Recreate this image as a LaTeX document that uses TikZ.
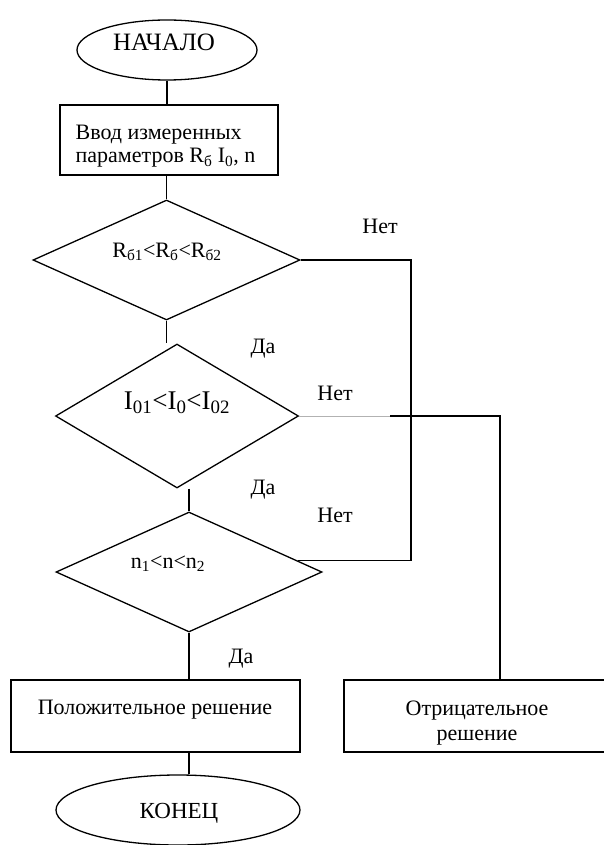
\documentclass[tikz,border=0pt]{standalone}
\usepackage{fontspec}
\setmainfont{Liberation Serif}
\usetikzlibrary{shapes.geometric}
\begin{document}
\begin{tikzpicture}[x=1pt,y=-1pt,line width=1.3pt,
  every node/.style={font=\fontsize{22}{25}\selectfont},
  term/.style={ellipse,draw,inner sep=0pt},
  proc/.style={rectangle,draw,inner sep=0pt},
  dec/.style={diamond,draw,inner sep=0pt},
  txt/.style={anchor=base,inner sep=0pt},
  lbl/.style={anchor=base,inner sep=0pt}]
\useasboundingbox (0,0) rectangle (603,845);
% shapes
\node[term,minimum width=180pt,minimum height=60pt] (start) at (167,50) {};
\node[proc,minimum width=218pt,minimum height=70pt] (input) at (169,140) {};
\node[dec,minimum width=267pt,minimum height=120pt] (d1) at (166.5,260) {};
\node[dec,minimum width=243pt,minimum height=144pt] (d2) at (177,416) {};
\node[dec,minimum width=266pt,minimum height=120pt] (d3) at (189,572) {};
\node[proc,minimum width=289pt,minimum height=72pt] (pos) at (155.5,716) {};
\node[proc,minimum width=262pt,minimum height=72pt] (neg) at (475,716) {};
\node[term,minimum width=244pt,minimum height=70pt] (end) at (178,810) {};
% texts
\node[txt,font=\fontsize{25}{28}\selectfont] (tstart) at (164,51) {НАЧАЛО};
\node[txt,anchor=base west] (tin1) at (75,140) {Ввод измеренных};
\node[txt,anchor=base west] (tin2) at (75,163) {параметров R\textsubscript{б} I\textsubscript{0}, n};
\node[txt] (td1) at (167,257) {R\textsubscript{б1}<R\textsubscript{б}<R\textsubscript{б2}};
\node[txt,font=\fontsize{27}{30}\selectfont] (td2) at (177,409) {I\textsubscript{01}<I\textsubscript{0}<I\textsubscript{02}};
\node[txt] (td3) at (168,568) {n\textsubscript{1}<n<n\textsubscript{2}};
\node[txt] (tpos) at (155,714) {Положительное решение};
\node[txt] (tneg1) at (477,715) {Отрицательное};
\node[txt] (tneg2) at (477,740) {решение};
\node[txt,font=\fontsize{23}{26}\selectfont] (tend) at (179,818) {КОНЕЦ};
% labels
\node[lbl] (no1) at (380,233) {Нет};
\node[lbl] (yes1) at (263,353) {Да};
\node[lbl] (no2) at (335,400) {Нет};
\node[lbl] (yes2) at (263,494) {Да};
\node[lbl] (no3) at (335,522) {Нет};
\node[lbl] (yes3) at (241,663) {Да};
% coordinates
\coordinate (c1) at (411,260);
\coordinate (c2) at (500,680);
\coordinate (c3) at (390,416);
% connectors
\draw (start.south) -- (start.south |- input.north);
\draw (input.south -| d1.north) -- (d1.north);
\draw (d1.south) -- (d1.south |- d2.north);
\draw (d2.south -| d3.north) -- (d3.north);
\draw (d1.east) -- (c1) |- (d3.6);
\draw[gray!60,line width=0.8pt] (d2.east) -- (c3);
\draw (c3) -| (c2);
\draw (d3.south) -- (d3.south |- pos.north);
\draw (d3.south |- pos.south) -- (d3.south |- end.north);
\end{tikzpicture}
\end{document}
